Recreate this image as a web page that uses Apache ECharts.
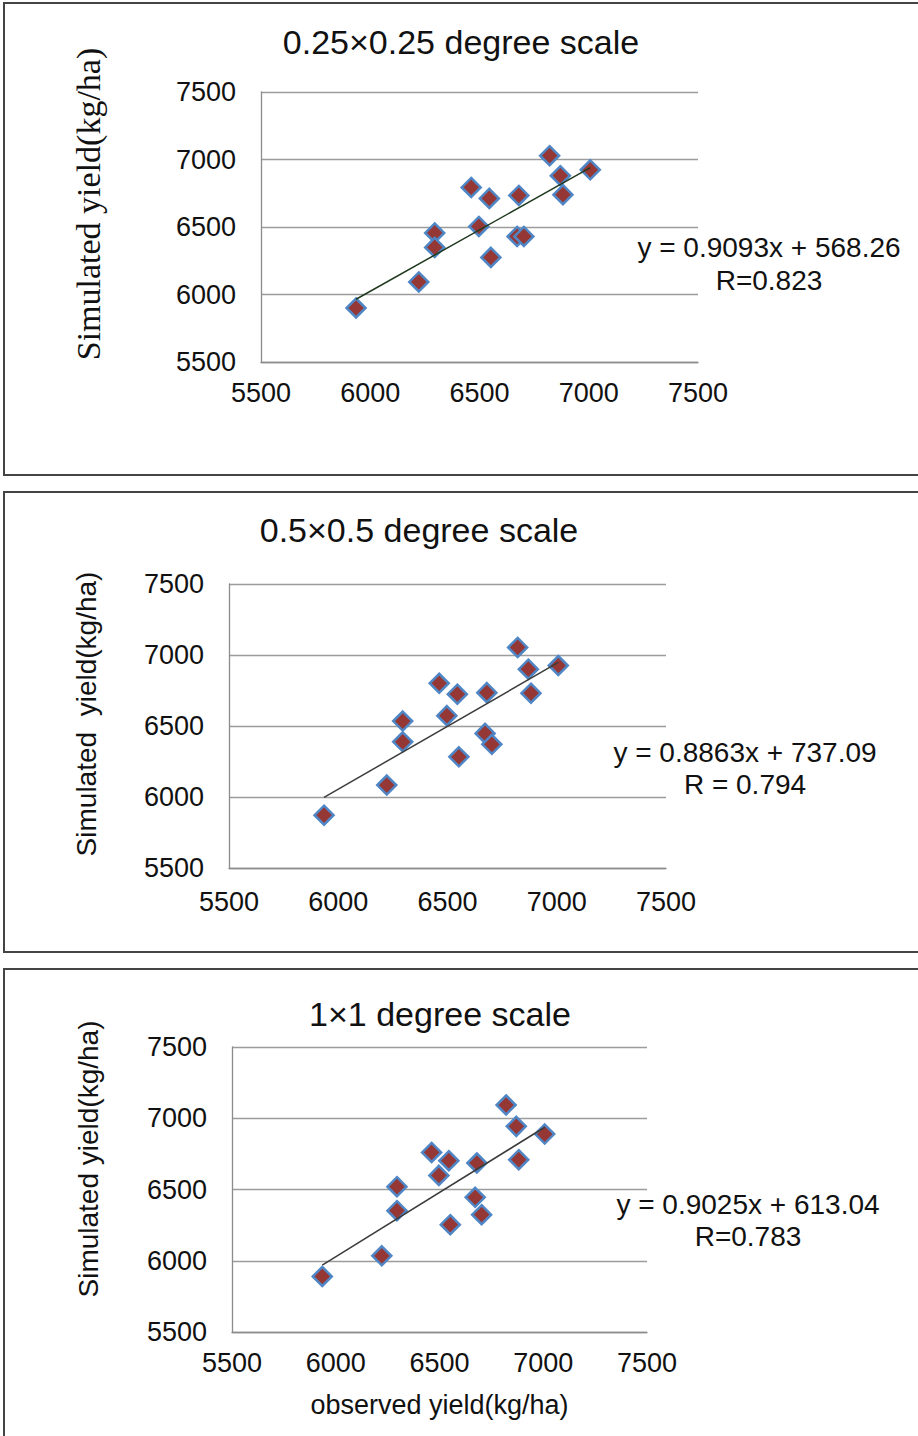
<!DOCTYPE html>
<html>
<head>
<meta charset="utf-8">
<script src="https://cdn.jsdelivr.net/npm/echarts@6/dist/echarts.min.js"></script>
<style>
html,body{margin:0;padding:0;background:#fff;}
#c{width:918px;height:1436px;}
</style>
</head>
<body>
<div id="c"></div>
<script>
// ---- data ----
const observed = [5935, 6222, 6295, 6295, 6462, 6497, 6545, 6552, 6680, 6672, 6703, 6821, 6870, 6882, 7007];
const sim025 = [5900, 6093, 6456, 6349, 6793, 6504, 6712, 6275, 6734, 6430, 6430, 7028, 6880, 6739, 6924];
const sim05  = [5872, 6084, 6535, 6389, 6801, 6573, 6724, 6283, 6735, 6448, 6371, 7053, 6900, 6731, 6926];
const sim1   = [5890, 6035, 6520, 6351, 6760, 6599, 6702, 6253, 6686, 6445, 6323, 7093, 6943, 6709, 6889];
const titles = ['0.25×0.25 degree scale', '0.5×0.5 degree scale', '1×1 degree scale'];
const slopes = [0.9093, 0.8863, 0.9025];
const intercepts = [568.26, 737.09, 613.04];
const eqLabels = ['y = 0.9093x + 568.26', 'y = 0.8863x + 737.09', 'y = 0.9025x + 613.04'];
const rLabels = ['R=0.823', 'R = 0.794', 'R=0.783'];
const yNames = ['Simulated yield(kg/ha)', 'Simulated  yield(kg/ha)', 'Simulated yield(kg/ha)'];
const xName = 'observed yield(kg/ha)';
const axisTicks = [5500, 6000, 6500, 7000, 7500];

// ---- layout ----
const SANS = '"Liberation Sans", Arial, sans-serif';
const SERIF = '"Liberation Serif", "Times New Roman", serif';
const grids = [
  {left: 261, top: 92, width: 437, height: 270},
  {left: 229, top: 584, width: 437, height: 284},
  {left: 232, top: 1047, width: 415, height: 285}
];
const xLabelMargin = [17, 20, 17];
const yNamePos = [[88, 204], [86, 714], [88, 1159]];
const yNameFont = ['34px ' + SERIF, '28px ' + SANS, '28px ' + SANS];
const trendColors = ['#1f3a1f', '#3c3c3c', '#3c3c3c'];
const titlePos = [[461, 42], [419, 530], [440, 1014]];
const eqPos = [[769, 247, 280], [745, 752, 784], [748, 1204, 1236]];
const frames = [[4, 3, 930, 472], [4, 492, 930, 460], [4, 969, 930, 520]];
const sims = [sim025, sim05, sim1];

const xMin = Math.min(...observed), xMax = Math.max(...observed);
const series = [];
const xAxes = [], yAxes = [];
const graphics = [];
for (let i = 0; i < 3; i++) {
  const axisCommon = {
    type: 'value', min: axisTicks[0], max: axisTicks[axisTicks.length - 1], interval: 500,
    gridIndex: i,
    axisTick: {show: false},
    axisLine: {show: true, lineStyle: {color: '#8c8c8c', width: 1.3}},
    axisLabel: {color: '#111', fontSize: 27, fontFamily: SANS, formatter: v => String(v)}
  };
  xAxes.push(Object.assign({}, axisCommon, {
    splitLine: {show: false},
    axisLabel: Object.assign({}, axisCommon.axisLabel, {margin: xLabelMargin[i]}),
    name: i === 2 ? xName : '',
    nameLocation: 'middle', nameGap: 59,
    nameTextStyle: {color: '#111', fontSize: 27, fontFamily: SANS}
  }));
  yAxes.push(Object.assign({}, axisCommon, {
    splitLine: {show: true, lineStyle: {color: '#9c9c9c', width: 1.3}},
    axisLabel: Object.assign({}, axisCommon.axisLabel, {margin: 25})
  }));
  series.push({
    type: 'scatter', xAxisIndex: i, yAxisIndex: i,
    symbol: 'diamond', symbolSize: 19,
    itemStyle: {color: '#953735', borderColor: '#4f86c6', borderWidth: 2.5, opacity: 1},
    data: observed.map((x, k) => [x, sims[i][k]]),
    z: 2
  });
  series.push({
    type: 'line', xAxisIndex: i, yAxisIndex: i,
    symbol: 'none', silent: true,
    lineStyle: {color: trendColors[i], width: 1.5},
    data: [[xMin, slopes[i] * xMin + intercepts[i]], [xMax, slopes[i] * xMax + intercepts[i]]],
    z: 3
  });
  graphics.push({
    type: 'rect', shape: {x: frames[i][0], y: frames[i][1], width: frames[i][2], height: frames[i][3]},
    style: {fill: 'none', stroke: '#444', lineWidth: 2}, silent: true
  });
  graphics.push({
    type: 'text', x: titlePos[i][0], y: titlePos[i][1],
    style: {text: titles[i], fill: '#111', font: '34px ' + SANS, textAlign: 'center', textVerticalAlign: 'middle'}
  });
  graphics.push({
    type: 'text', x: yNamePos[i][0], y: yNamePos[i][1], rotation: Math.PI / 2,
    style: {text: yNames[i], fill: '#111', font: yNameFont[i], textAlign: 'center', textVerticalAlign: 'middle'}
  });
  graphics.push({
    type: 'text', x: eqPos[i][0], y: eqPos[i][1],
    style: {text: eqLabels[i], fill: '#111', font: '28px ' + SANS, textAlign: 'center', textVerticalAlign: 'middle'}
  });
  graphics.push({
    type: 'text', x: eqPos[i][0], y: eqPos[i][2],
    style: {text: rLabels[i], fill: '#111', font: '28px ' + SANS, textAlign: 'center', textVerticalAlign: 'middle'}
  });
}

const chart = echarts.init(document.getElementById('c'), null, {renderer: 'svg'});
chart.setOption({
  animation: false,
  backgroundColor: '#fff',
  grid: grids.map(g => Object.assign({containLabel: false}, g)),
  xAxis: xAxes,
  yAxis: yAxes,
  series: series,
  graphic: graphics
});
</script>
</body>
</html>
